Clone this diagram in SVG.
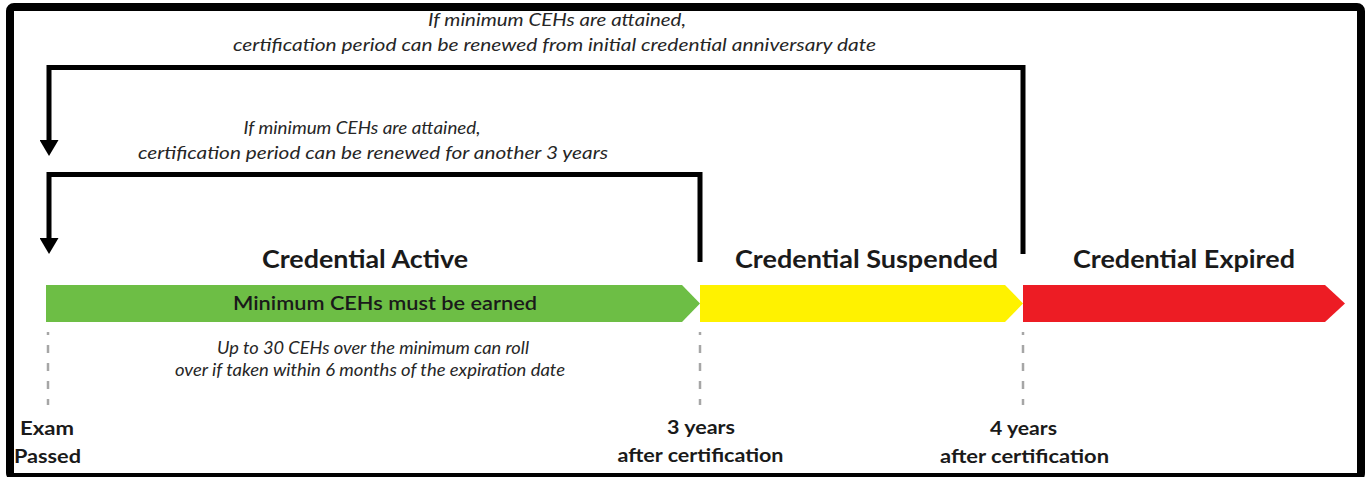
<svg xmlns="http://www.w3.org/2000/svg" width="1370" height="477" viewBox="0 0 1370 477">
  <defs>
    <marker id="ah" markerUnits="userSpaceOnUse" viewBox="0 0 16 19" refX="0" refY="9.5" markerWidth="16" markerHeight="19" orient="auto">
      <path d="M0,0 L16,9.5 L0,19 Z" fill="#000"/>
    </marker>
    <style>
      .frame { fill: #fff; stroke: #000; stroke-width: 8; }
      .shadow { fill: none; stroke: #9a9a9a; stroke-width: 2; }
      .bracket { fill: none; stroke: #000; stroke-width: 5; stroke-linejoin: miter; }
      .dash { stroke: #a6a6a6; stroke-width: 2.5; stroke-dasharray: 8 10; stroke-dashoffset: 5; }
      .it { font-family: Lato, "Open Sans", "Liberation Sans", sans-serif; font-style: italic; font-size: 17px; fill: #262626; text-anchor: middle; }
      .hd { font-family: Lato, "Open Sans", "Liberation Sans", sans-serif; font-weight: bold; font-size: 25px; fill: #1a1a1a; text-anchor: middle; }
      .bar { font-family: Lato, "Open Sans", "Liberation Sans", sans-serif; font-size: 20px; font-weight: 600; fill: #1a1a1a; text-anchor: middle; }
      .tm { font-family: Lato, "Open Sans", "Liberation Sans", sans-serif; font-weight: bold; font-size: 19px; fill: #1a1a1a; text-anchor: middle; }
    </style>
  </defs>

  <rect x="0" y="0" width="1370" height="477" fill="#fff"/>
  <rect class="shadow" x="13" y="10" width="1351" height="470" rx="4"/>
  <rect class="frame" x="10" y="7" width="1351" height="470" rx="4"/>

  <g id="connectors">
    <path class="bracket" d="M1023,254 V67.5 H49 V140" marker-end="url(#ah)"/>
    <path class="bracket" d="M700,262 V174.5 H49 V238" marker-end="url(#ah)"/>
    <text class="it" x="557" y="26" textLength="258" lengthAdjust="spacingAndGlyphs">If minimum CEHs are attained,</text>
    <text class="it" x="554.5" y="51" textLength="643" lengthAdjust="spacingAndGlyphs">certification period can be renewed from initial credential anniversary date</text>
    <text class="it" x="362" y="134" textLength="237" lengthAdjust="spacingAndGlyphs">If minimum CEHs are attained,</text>
    <text class="it" x="373" y="159" textLength="470" lengthAdjust="spacingAndGlyphs">certification period can be renewed for another 3 years</text>
  </g>

  <g id="active">
    <path d="M46,285 H682 L700,303.5 L682,322 H46 Z" fill="#6dbe45"/>
    <text class="hd" x="365" y="268" textLength="206" lengthAdjust="spacingAndGlyphs">Credential Active</text>
    <text class="bar" x="385" y="310" textLength="304" lengthAdjust="spacingAndGlyphs">Minimum CEHs must be earned</text>
    <text class="it" x="373" y="354" textLength="312" lengthAdjust="spacingAndGlyphs">Up to 30 CEHs over the minimum can roll</text>
    <text class="it" x="370" y="376" textLength="390" lengthAdjust="spacingAndGlyphs">over if taken within 6 months of the expiration date</text>
  </g>

  <g id="suspended">
    <path d="M700,285 H1005 L1023,303.5 L1005,322 H700 Z" fill="#fff200"/>
    <text class="hd" x="866.5" y="268" textLength="263" lengthAdjust="spacingAndGlyphs">Credential Suspended</text>
  </g>

  <g id="expired">
    <path d="M1023,285 H1325 L1345,303.5 L1325,322 H1023 Z" fill="#ed1c24"/>
    <text class="hd" x="1184" y="268" textLength="222" lengthAdjust="spacingAndGlyphs">Credential Expired</text>
  </g>

  <g id="exam-passed">
    <line class="dash" x1="48" y1="332" x2="48" y2="405"/>
    <text class="tm" x="47" y="435" textLength="54" lengthAdjust="spacingAndGlyphs">Exam</text>
    <text class="tm" x="47.5" y="463" textLength="67" lengthAdjust="spacingAndGlyphs">Passed</text>
  </g>

  <g id="three-years">
    <line class="dash" x1="700" y1="332" x2="700" y2="405"/>
    <text class="tm" x="701" y="434" textLength="68" lengthAdjust="spacingAndGlyphs">3 years</text>
    <text class="tm" x="700.5" y="462" textLength="166" lengthAdjust="spacingAndGlyphs">after certification</text>
  </g>

  <g id="four-years">
    <line class="dash" x1="1023" y1="332" x2="1023" y2="405"/>
    <text class="tm" x="1023.5" y="435" textLength="67" lengthAdjust="spacingAndGlyphs">4 years</text>
    <text class="tm" x="1024.5" y="463" textLength="169" lengthAdjust="spacingAndGlyphs">after certification</text>
  </g>
</svg>
